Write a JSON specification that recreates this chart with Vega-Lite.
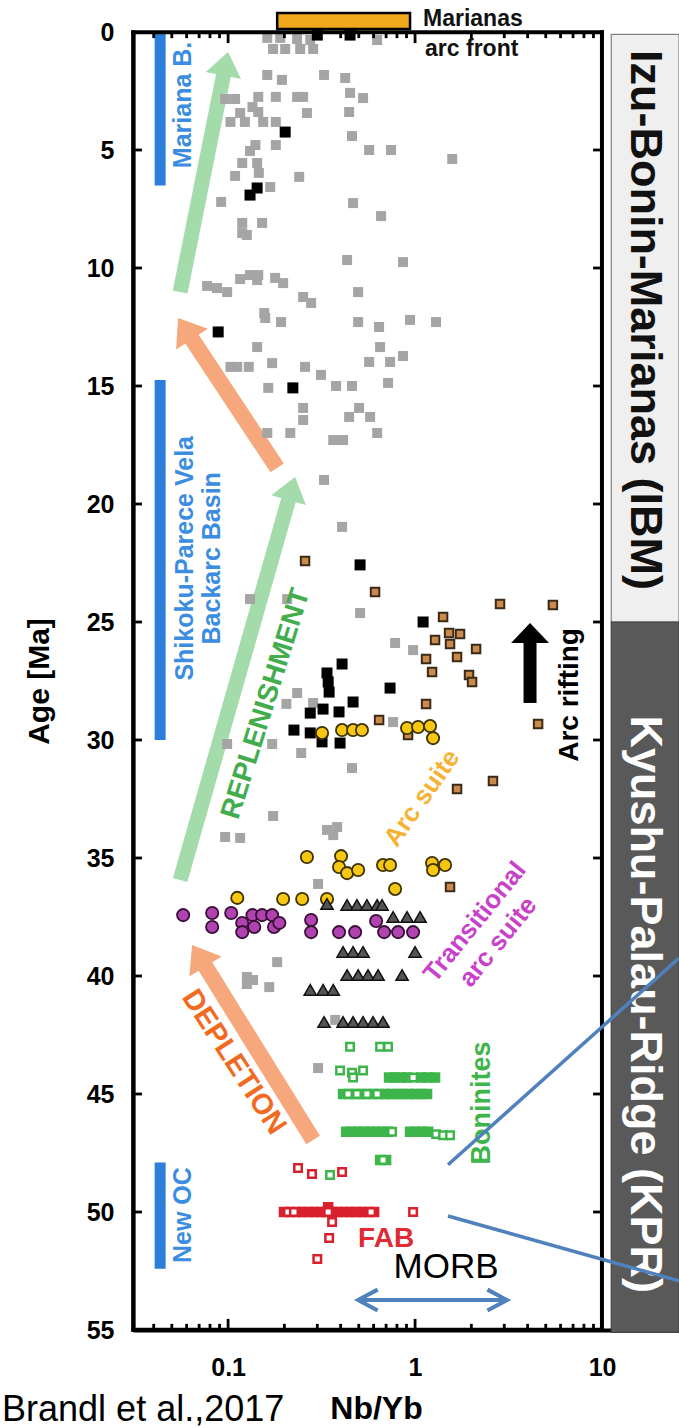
{
  "$schema": "https://vega.github.io/schema/vega-lite/v6.json",
  "width": 546,
  "height": 1298,
  "autosize": {"type": "none"},
  "padding": {"left": 133, "top": 32, "right": 0, "bottom": 98},
  "background": "white",
  "config": {"view": {"stroke": null}},
  "datasets": {
    "pts": [
      {"type": "gray", "nb": 0.162, "age": 0.25}, {"type": "gray", "nb": 0.190, "age": 0.25}, {"type": "gray", "nb": 0.174, "age": 0.72}, {"type": "gray", "nb": 0.202, "age": 0.72},
      {"type": "gray", "nb": 0.234, "age": 0.30}, {"type": "gray", "nb": 0.275, "age": 0.34}, {"type": "gray", "nb": 0.243, "age": 0.72}, {"type": "gray", "nb": 0.285, "age": 0.72},
      {"type": "gray", "nb": 0.627, "age": 0.34}, {"type": "gray", "nb": 0.162, "age": 1.82}, {"type": "gray", "nb": 0.194, "age": 2.03}, {"type": "gray", "nb": 0.326, "age": 1.82},
      {"type": "gray", "nb": 0.423, "age": 1.95}, {"type": "gray", "nb": 0.0964, "age": 2.84}, {"type": "gray", "nb": 0.109, "age": 2.84}, {"type": "gray", "nb": 0.145, "age": 2.75},
      {"type": "gray", "nb": 0.180, "age": 2.75}, {"type": "gray", "nb": 0.234, "age": 2.75}, {"type": "gray", "nb": 0.252, "age": 2.75}, {"type": "gray", "nb": 0.449, "age": 2.58},
      {"type": "gray", "nb": 0.527, "age": 2.80}, {"type": "gray", "nb": 0.135, "age": 3.18}, {"type": "gray", "nb": 0.116, "age": 3.43}, {"type": "gray", "nb": 0.145, "age": 3.39},
      {"type": "gray", "nb": 0.264, "age": 3.43}, {"type": "gray", "nb": 0.444, "age": 3.39}, {"type": "gray", "nb": 0.103, "age": 3.81}, {"type": "gray", "nb": 0.123, "age": 3.81},
      {"type": "gray", "nb": 0.154, "age": 3.81}, {"type": "gray", "nb": 0.180, "age": 3.81}, {"type": "gray", "nb": 0.460, "age": 4.41}, {"type": "gray", "nb": 0.140, "age": 4.79},
      {"type": "gray", "nb": 0.131, "age": 5.04}, {"type": "gray", "nb": 0.180, "age": 4.79}, {"type": "gray", "nb": 0.568, "age": 5.0}, {"type": "gray", "nb": 0.744, "age": 5.0},
      {"type": "gray", "nb": 1.58, "age": 5.38}, {"type": "gray", "nb": 0.119, "age": 5.55}, {"type": "gray", "nb": 0.143, "age": 5.55}, {"type": "gray", "nb": 0.146, "age": 5.97},
      {"type": "gray", "nb": 0.109, "age": 6.10}, {"type": "gray", "nb": 0.240, "age": 6.14}, {"type": "gray", "nb": 0.168, "age": 6.57}, {"type": "gray", "nb": 0.0918, "age": 7.20},
      {"type": "gray", "nb": 0.466, "age": 7.25}, {"type": "gray", "nb": 0.658, "age": 7.80}, {"type": "gray", "nb": 0.119, "age": 8.09}, {"type": "gray", "nb": 0.152, "age": 8.09},
      {"type": "gray", "nb": 0.119, "age": 8.52}, {"type": "gray", "nb": 0.126, "age": 8.60}, {"type": "gray", "nb": 0.433, "age": 9.66}, {"type": "gray", "nb": 0.862, "age": 9.75},
      {"type": "gray", "nb": 0.0772, "age": 10.76}, {"type": "gray", "nb": 0.0872, "age": 10.85}, {"type": "gray", "nb": 0.0988, "age": 11.02}, {"type": "gray", "nb": 0.116, "age": 10.47},
      {"type": "gray", "nb": 0.131, "age": 10.30}, {"type": "gray", "nb": 0.145, "age": 10.30}, {"type": "gray", "nb": 0.143, "age": 10.51}, {"type": "gray", "nb": 0.1785, "age": 10.42},
      {"type": "gray", "nb": 0.197, "age": 10.64}, {"type": "gray", "nb": 0.496, "age": 11.02}, {"type": "gray", "nb": 0.252, "age": 11.23}, {"type": "gray", "nb": 0.278, "age": 11.48},
      {"type": "gray", "nb": 0.156, "age": 11.91}, {"type": "gray", "nb": 0.158, "age": 12.12}, {"type": "gray", "nb": 0.192, "age": 12.29}, {"type": "gray", "nb": 0.496, "age": 12.29},
      {"type": "gray", "nb": 0.642, "age": 12.50}, {"type": "gray", "nb": 0.940, "age": 12.20}, {"type": "gray", "nb": 1.295, "age": 12.29}, {"type": "gray", "nb": 0.143, "age": 13.35},
      {"type": "gray", "nb": 0.650, "age": 13.35}, {"type": "gray", "nb": 0.568, "age": 13.98}, {"type": "gray", "nb": 0.735, "age": 13.98}, {"type": "gray", "nb": 0.862, "age": 13.73},
      {"type": "gray", "nb": 0.103, "age": 14.19}, {"type": "gray", "nb": 0.112, "age": 14.19}, {"type": "gray", "nb": 0.129, "age": 14.19}, {"type": "gray", "nb": 0.172, "age": 14.03},
      {"type": "gray", "nb": 0.258, "age": 14.19}, {"type": "gray", "nb": 0.314, "age": 14.53}, {"type": "gray", "nb": 0.164, "age": 15.08}, {"type": "gray", "nb": 0.378, "age": 15.0},
      {"type": "gray", "nb": 0.460, "age": 15.0}, {"type": "gray", "nb": 0.717, "age": 14.87}, {"type": "gray", "nb": 0.252, "age": 15.93}, {"type": "gray", "nb": 0.252, "age": 16.44},
      {"type": "gray", "nb": 0.502, "age": 15.93}, {"type": "gray", "nb": 0.444, "age": 16.31}, {"type": "gray", "nb": 0.575, "age": 16.31}, {"type": "gray", "nb": 0.162, "age": 16.99},
      {"type": "gray", "nb": 0.215, "age": 16.99}, {"type": "gray", "nb": 0.365, "age": 17.29}, {"type": "gray", "nb": 0.412, "age": 17.29}, {"type": "gray", "nb": 0.627, "age": 16.99},
      {"type": "gray", "nb": 0.326, "age": 18.98}, {"type": "gray", "nb": 0.407, "age": 20.97}, {"type": "gray", "nb": 0.131, "age": 24.03}, {"type": "gray", "nb": 0.207, "age": 24.03},
      {"type": "gray", "nb": 0.508, "age": 24.62}, {"type": "gray", "nb": 0.782, "age": 25.89}, {"type": "gray", "nb": 0.976, "age": 26.19}, {"type": "gray", "nb": 0.234, "age": 28.01},
      {"type": "gray", "nb": 0.205, "age": 28.47}, {"type": "gray", "nb": 0.285, "age": 28.43}, {"type": "gray", "nb": 0.763, "age": 29.24}, {"type": "gray", "nb": 0.0988, "age": 30.17},
      {"type": "gray", "nb": 0.172, "age": 30.17}, {"type": "gray", "nb": 0.246, "age": 30.55}, {"type": "gray", "nb": 0.460, "age": 31.19}, {"type": "gray", "nb": 0.174, "age": 33.22},
      {"type": "gray", "nb": 0.0964, "age": 34.11}, {"type": "gray", "nb": 0.116, "age": 34.15}, {"type": "gray", "nb": 0.338, "age": 33.81}, {"type": "gray", "nb": 0.383, "age": 33.69},
      {"type": "gray", "nb": 0.365, "age": 34.03}, {"type": "gray", "nb": 0.303, "age": 36.10}, {"type": "gray", "nb": 0.183, "age": 39.41}, {"type": "gray", "nb": 0.126, "age": 40.04},
      {"type": "gray", "nb": 0.126, "age": 40.34}, {"type": "gray", "nb": 0.136, "age": 40.17}, {"type": "gray", "nb": 0.166, "age": 40.47}, {"type": "gray", "nb": 0.374, "age": 41.86},
      {"type": "gray", "nb": 0.303, "age": 43.9},

      {"type": "black", "nb": 0.300, "age": 0.13}, {"type": "black", "nb": 0.449, "age": 0.13}, {"type": "black", "nb": 0.202, "age": 4.24}, {"type": "black", "nb": 0.143, "age": 6.61},
      {"type": "black", "nb": 0.131, "age": 6.91}, {"type": "black", "nb": 0.0885, "age": 12.71}, {"type": "black", "nb": 0.222, "age": 15.08}, {"type": "black", "nb": 0.508, "age": 22.58},
      {"type": "black", "nb": 1.104, "age": 25.0}, {"type": "black", "nb": 0.407, "age": 26.78}, {"type": "black", "nb": 0.338, "age": 27.16}, {"type": "black", "nb": 0.343, "age": 27.54},
      {"type": "black", "nb": 0.347, "age": 27.97}, {"type": "black", "nb": 0.735, "age": 27.80}, {"type": "black", "nb": 0.466, "age": 28.39}, {"type": "black", "nb": 0.392, "age": 28.81},
      {"type": "black", "nb": 0.322, "age": 28.69}, {"type": "black", "nb": 0.275, "age": 28.86}, {"type": "black", "nb": 0.225, "age": 29.58}, {"type": "black", "nb": 0.275, "age": 29.70},
      {"type": "black", "nb": 0.318, "age": 30.08}, {"type": "black", "nb": 0.397, "age": 30.13},

      {"type": "brown", "nb": 0.258, "age": 22.42}, {"type": "brown", "nb": 0.611, "age": 23.73}, {"type": "brown", "nb": 2.847, "age": 24.24}, {"type": "brown", "nb": 5.46, "age": 24.28},
      {"type": "brown", "nb": 1.412, "age": 24.79}, {"type": "brown", "nb": 1.279, "age": 25.76}, {"type": "brown", "nb": 1.520, "age": 25.47}, {"type": "brown", "nb": 1.740, "age": 25.51},
      {"type": "brown", "nb": 1.538, "age": 25.93}, {"type": "brown", "nb": 2.12, "age": 26.14}, {"type": "brown", "nb": 1.677, "age": 26.48}, {"type": "brown", "nb": 1.145, "age": 26.57},
      {"type": "brown", "nb": 1.233, "age": 27.12}, {"type": "brown", "nb": 1.944, "age": 27.25}, {"type": "brown", "nb": 2.018, "age": 27.54}, {"type": "brown", "nb": 1.145, "age": 28.47},
      {"type": "brown", "nb": 0.642, "age": 29.15}, {"type": "brown", "nb": 0.917, "age": 29.79}, {"type": "brown", "nb": 4.55, "age": 29.32}, {"type": "brown", "nb": 1.677, "age": 32.08},
      {"type": "brown", "nb": 2.61, "age": 31.74}, {"type": "brown", "nb": 1.538, "age": 36.23},

      {"type": "yellow", "nb": 0.318, "age": 29.70}, {"type": "yellow", "nb": 0.407, "age": 29.58}, {"type": "yellow", "nb": 0.466, "age": 29.58}, {"type": "yellow", "nb": 0.520, "age": 29.58},
      {"type": "yellow", "nb": 0.906, "age": 29.49}, {"type": "yellow", "nb": 1.038, "age": 29.45}, {"type": "yellow", "nb": 1.203, "age": 29.41}, {"type": "yellow", "nb": 1.248, "age": 29.92},
      {"type": "yellow", "nb": 0.264, "age": 34.96}, {"type": "yellow", "nb": 0.402, "age": 34.92}, {"type": "yellow", "nb": 0.392, "age": 35.38}, {"type": "yellow", "nb": 0.433, "age": 35.64},
      {"type": "yellow", "nb": 0.496, "age": 35.51}, {"type": "yellow", "nb": 0.674, "age": 35.30}, {"type": "yellow", "nb": 0.735, "age": 35.30}, {"type": "yellow", "nb": 0.782, "age": 36.31},
      {"type": "yellow", "nb": 1.233, "age": 35.21}, {"type": "yellow", "nb": 1.447, "age": 35.30}, {"type": "yellow", "nb": 1.248, "age": 35.51}, {"type": "yellow", "nb": 0.112, "age": 36.69},
      {"type": "yellow", "nb": 0.197, "age": 36.74}, {"type": "yellow", "nb": 0.249, "age": 36.74}, {"type": "yellow", "nb": 0.338, "age": 36.74},

      {"type": "purple", "nb": 0.0575, "age": 37.42}, {"type": "purple", "nb": 0.0822, "age": 37.33}, {"type": "purple", "nb": 0.0822, "age": 37.92}, {"type": "purple", "nb": 0.1039, "age": 37.33},
      {"type": "purple", "nb": 0.119, "age": 37.75}, {"type": "purple", "nb": 0.119, "age": 38.14}, {"type": "purple", "nb": 0.135, "age": 37.42}, {"type": "purple", "nb": 0.138, "age": 37.92},
      {"type": "purple", "nb": 0.152, "age": 37.42}, {"type": "purple", "nb": 0.172, "age": 37.42}, {"type": "purple", "nb": 0.176, "age": 37.92}, {"type": "purple", "nb": 0.188, "age": 37.75},
      {"type": "purple", "nb": 0.278, "age": 37.63}, {"type": "purple", "nb": 0.278, "age": 38.14}, {"type": "purple", "nb": 0.392, "age": 38.14}, {"type": "purple", "nb": 0.478, "age": 38.14},
      {"type": "purple", "nb": 0.619, "age": 37.67}, {"type": "purple", "nb": 0.683, "age": 38.14}, {"type": "purple", "nb": 0.811, "age": 38.14}, {"type": "purple", "nb": 0.976, "age": 38.14},

      {"type": "tri", "nb": 0.338, "age": 36.95}, {"type": "tri", "nb": 0.433, "age": 36.99}, {"type": "tri", "nb": 0.489, "age": 36.99}, {"type": "tri", "nb": 0.553, "age": 36.99},
      {"type": "tri", "nb": 0.627, "age": 36.99}, {"type": "tri", "nb": 0.666, "age": 36.99}, {"type": "tri", "nb": 0.763, "age": 37.50}, {"type": "tri", "nb": 0.906, "age": 37.50},
      {"type": "tri", "nb": 1.064, "age": 37.50}, {"type": "tri", "nb": 0.412, "age": 38.98}, {"type": "tri", "nb": 0.466, "age": 38.98}, {"type": "tri", "nb": 0.527, "age": 38.98},
      {"type": "tri", "nb": 1.0, "age": 38.98}, {"type": "tri", "nb": 0.433, "age": 39.96}, {"type": "tri", "nb": 0.496, "age": 39.96}, {"type": "tri", "nb": 0.560, "age": 39.96},
      {"type": "tri", "nb": 0.634, "age": 39.96}, {"type": "tri", "nb": 0.852, "age": 39.96}, {"type": "tri", "nb": 0.275, "age": 40.59}, {"type": "tri", "nb": 0.322, "age": 40.59},
      {"type": "tri", "nb": 0.365, "age": 40.59}, {"type": "tri", "nb": 0.326, "age": 41.95}, {"type": "tri", "nb": 0.412, "age": 41.95}, {"type": "tri", "nb": 0.466, "age": 41.95},
      {"type": "tri", "nb": 0.527, "age": 41.95}, {"type": "tri", "nb": 0.596, "age": 41.95}, {"type": "tri", "nb": 0.674, "age": 41.95},

      {"type": "bonf", "nb": 0.726, "age": 44.3}, {"type": "bonf", "nb": 0.782, "age": 44.3}, {"type": "bonf", "nb": 0.841, "age": 44.3}, {"type": "bonf", "nb": 0.906, "age": 44.3},
      {"type": "bonf", "nb": 1.077, "age": 44.3}, {"type": "bonf", "nb": 1.174, "age": 44.3}, {"type": "bonf", "nb": 1.279, "age": 44.3},
      {"type": "bonf", "nb": 0.412, "age": 45.0}, {"type": "bonf", "nb": 0.444, "age": 45.0}, {"type": "bonf", "nb": 0.478, "age": 45.0}, {"type": "bonf", "nb": 0.515, "age": 45.0},
      {"type": "bonf", "nb": 0.553, "age": 45.0}, {"type": "bonf", "nb": 0.596, "age": 45.0}, {"type": "bonf", "nb": 0.642, "age": 45.0}, {"type": "bonf", "nb": 0.691, "age": 45.0},
      {"type": "bonf", "nb": 0.744, "age": 45.0}, {"type": "bonf", "nb": 0.801, "age": 45.0}, {"type": "bonf", "nb": 0.862, "age": 45.0}, {"type": "bonf", "nb": 0.929, "age": 45.0},
      {"type": "bonf", "nb": 1.0, "age": 45.0}, {"type": "bonf", "nb": 1.077, "age": 45.0}, {"type": "bonf", "nb": 1.159, "age": 45.0},
      {"type": "bonf", "nb": 0.428, "age": 46.6}, {"type": "bonf", "nb": 0.460, "age": 46.6}, {"type": "bonf", "nb": 0.496, "age": 46.6}, {"type": "bonf", "nb": 0.533, "age": 46.6},
      {"type": "bonf", "nb": 0.575, "age": 46.6}, {"type": "bonf", "nb": 0.619, "age": 46.6}, {"type": "bonf", "nb": 0.666, "age": 46.6}, {"type": "bonf", "nb": 0.717, "age": 46.6},
      {"type": "bonf", "nb": 0.940, "age": 46.6}, {"type": "bonf", "nb": 1.012, "age": 46.6}, {"type": "bonf", "nb": 1.090, "age": 46.6}, {"type": "bonf", "nb": 1.174, "age": 46.6},
      {"type": "bonf", "nb": 0.650, "age": 47.8}, {"type": "bonf", "nb": 0.700, "age": 47.8},

      {"type": "bono", "nb": 0.449, "age": 43.0}, {"type": "bono", "nb": 0.650, "age": 43.0}, {"type": "bono", "nb": 0.717, "age": 43.0}, {"type": "bono", "nb": 0.397, "age": 44.0},
      {"type": "bono", "nb": 0.460, "age": 44.1}, {"type": "bono", "nb": 0.466, "age": 44.3}, {"type": "bono", "nb": 0.527, "age": 44.0}, {"type": "bono", "nb": 0.976, "age": 44.3},
      {"type": "bono", "nb": 0.438, "age": 45.0}, {"type": "bono", "nb": 0.489, "age": 45.0}, {"type": "bono", "nb": 0.553, "age": 45.0}, {"type": "bono", "nb": 0.627, "age": 45.0},
      {"type": "bono", "nb": 0.753, "age": 46.6}, {"type": "bono", "nb": 1.295, "age": 46.7}, {"type": "bono", "nb": 1.412, "age": 46.75}, {"type": "bono", "nb": 1.538, "age": 46.75},
      {"type": "bono", "nb": 0.674, "age": 47.8}, {"type": "bono", "nb": 0.351, "age": 48.43},

      {"type": "fabf", "nb": 0.199, "age": 50.0}, {"type": "fabf", "nb": 0.215, "age": 50.0}, {"type": "fabf", "nb": 0.231, "age": 50.0}, {"type": "fabf", "nb": 0.249, "age": 50.0},
      {"type": "fabf", "nb": 0.268, "age": 50.0}, {"type": "fabf", "nb": 0.288, "age": 50.0}, {"type": "fabf", "nb": 0.311, "age": 50.0}, {"type": "fabf", "nb": 0.334, "age": 50.0},
      {"type": "fabf", "nb": 0.360, "age": 50.0}, {"type": "fabf", "nb": 0.387, "age": 50.0}, {"type": "fabf", "nb": 0.417, "age": 50.0}, {"type": "fabf", "nb": 0.449, "age": 50.0},
      {"type": "fabf", "nb": 0.483, "age": 50.0}, {"type": "fabf", "nb": 0.520, "age": 50.0}, {"type": "fabf", "nb": 0.560, "age": 50.0}, {"type": "fabf", "nb": 0.604, "age": 50.0},
      {"type": "fabf", "nb": 0.343, "age": 49.8},

      {"type": "fabo", "nb": 0.209, "age": 50.0}, {"type": "fabo", "nb": 0.225, "age": 50.0}, {"type": "fabo", "nb": 0.343, "age": 50.0}, {"type": "fabo", "nb": 0.582, "age": 50.0},
      {"type": "fabo", "nb": 0.976, "age": 50.0}, {"type": "fabo", "nb": 0.2366, "age": 48.14}, {"type": "fabo", "nb": 0.281, "age": 48.39}, {"type": "fabo", "nb": 0.407, "age": 48.31},
      {"type": "fabo", "nb": 0.360, "age": 50.42}, {"type": "fabo", "nb": 0.347, "age": 51.1}, {"type": "fabo", "nb": 0.300, "age": 51.99}
    ],
    "ticks": [
      {"nb": 0.1, "age": 54.99, "nb2": 0.1, "age2": 54.53}, {"nb": 1, "age": 54.99, "nb2": 1, "age2": 54.53},
      {"nb": 0.1, "age": 0.01, "nb2": 0.1, "age2": 0.47}, {"nb": 1, "age": 0.01, "nb2": 1, "age2": 0.47},
      {"nb": 0.04, "age": 54.99, "nb2": 0.04, "age2": 54.74}, {"nb": 0.05, "age": 54.99, "nb2": 0.05, "age2": 54.74}, {"nb": 0.06, "age": 54.99, "nb2": 0.06, "age2": 54.74},
      {"nb": 0.07, "age": 54.99, "nb2": 0.07, "age2": 54.74}, {"nb": 0.08, "age": 54.99, "nb2": 0.08, "age2": 54.74}, {"nb": 0.09, "age": 54.99, "nb2": 0.09, "age2": 54.74},
      {"nb": 0.2, "age": 54.99, "nb2": 0.2, "age2": 54.74}, {"nb": 0.3, "age": 54.99, "nb2": 0.3, "age2": 54.74}, {"nb": 0.4, "age": 54.99, "nb2": 0.4, "age2": 54.74},
      {"nb": 0.5, "age": 54.99, "nb2": 0.5, "age2": 54.74}, {"nb": 0.6, "age": 54.99, "nb2": 0.6, "age2": 54.74}, {"nb": 0.7, "age": 54.99, "nb2": 0.7, "age2": 54.74},
      {"nb": 0.8, "age": 54.99, "nb2": 0.8, "age2": 54.74}, {"nb": 0.9, "age": 54.99, "nb2": 0.9, "age2": 54.74}, {"nb": 2, "age": 54.99, "nb2": 2, "age2": 54.74},
      {"nb": 3, "age": 54.99, "nb2": 3, "age2": 54.74}, {"nb": 4, "age": 54.99, "nb2": 4, "age2": 54.74}, {"nb": 5, "age": 54.99, "nb2": 5, "age2": 54.74},
      {"nb": 6, "age": 54.99, "nb2": 6, "age2": 54.74}, {"nb": 7, "age": 54.99, "nb2": 7, "age2": 54.74}, {"nb": 8, "age": 54.99, "nb2": 8, "age2": 54.74},
      {"nb": 9, "age": 54.99, "nb2": 9, "age2": 54.74},
      {"nb": 0.04, "age": 0.01, "nb2": 0.04, "age2": 0.26}, {"nb": 0.05, "age": 0.01, "nb2": 0.05, "age2": 0.26}, {"nb": 0.06, "age": 0.01, "nb2": 0.06, "age2": 0.26},
      {"nb": 0.07, "age": 0.01, "nb2": 0.07, "age2": 0.26}, {"nb": 0.08, "age": 0.01, "nb2": 0.08, "age2": 0.26}, {"nb": 0.09, "age": 0.01, "nb2": 0.09, "age2": 0.26},
      {"nb": 0.2, "age": 0.01, "nb2": 0.2, "age2": 0.26}, {"nb": 0.3, "age": 0.01, "nb2": 0.3, "age2": 0.26}, {"nb": 0.4, "age": 0.01, "nb2": 0.4, "age2": 0.26},
      {"nb": 0.5, "age": 0.01, "nb2": 0.5, "age2": 0.26}, {"nb": 0.6, "age": 0.01, "nb2": 0.6, "age2": 0.26}, {"nb": 0.7, "age": 0.01, "nb2": 0.7, "age2": 0.26},
      {"nb": 0.8, "age": 0.01, "nb2": 0.8, "age2": 0.26}, {"nb": 0.9, "age": 0.01, "nb2": 0.9, "age2": 0.26}, {"nb": 2, "age": 0.01, "nb2": 2, "age2": 0.26},
      {"nb": 3, "age": 0.01, "nb2": 3, "age2": 0.26}, {"nb": 4, "age": 0.01, "nb2": 4, "age2": 0.26}, {"nb": 5, "age": 0.01, "nb2": 5, "age2": 0.26},
      {"nb": 6, "age": 0.01, "nb2": 6, "age2": 0.26}, {"nb": 7, "age": 0.01, "nb2": 7, "age2": 0.26}, {"nb": 8, "age": 0.01, "nb2": 8, "age2": 0.26},
      {"nb": 9, "age": 0.01, "nb2": 9, "age2": 0.26},
      {"nb": 0.0311, "age": 5, "nb2": 0.0346, "age2": 5}, {"nb": 0.0311, "age": 10, "nb2": 0.0346, "age2": 10}, {"nb": 0.0311, "age": 15, "nb2": 0.0346, "age2": 15},
      {"nb": 0.0311, "age": 20, "nb2": 0.0346, "age2": 20}, {"nb": 0.0311, "age": 25, "nb2": 0.0346, "age2": 25}, {"nb": 0.0311, "age": 30, "nb2": 0.0346, "age2": 30},
      {"nb": 0.0311, "age": 35, "nb2": 0.0346, "age2": 35}, {"nb": 0.0311, "age": 40, "nb2": 0.0346, "age2": 40}, {"nb": 0.0311, "age": 45, "nb2": 0.0346, "age2": 45},
      {"nb": 0.0311, "age": 50, "nb2": 0.0346, "age2": 50},
      {"nb": 8.95, "age": 5, "nb2": 9.99, "age2": 5}, {"nb": 8.95, "age": 10, "nb2": 9.99, "age2": 10}, {"nb": 8.95, "age": 15, "nb2": 9.99, "age2": 15},
      {"nb": 8.95, "age": 20, "nb2": 9.99, "age2": 20}, {"nb": 8.95, "age": 25, "nb2": 9.99, "age2": 25}, {"nb": 8.95, "age": 30, "nb2": 9.99, "age2": 30},
      {"nb": 8.95, "age": 35, "nb2": 9.99, "age2": 35}, {"nb": 8.95, "age": 40, "nb2": 9.99, "age2": 40}, {"nb": 8.95, "age": 45, "nb2": 9.99, "age2": 45},
      {"nb": 8.95, "age": 50, "nb2": 9.99, "age2": 50}
    ]
  },
  "encoding": {
    "x": {
      "field": "nb", "type": "quantitative",
      "scale": {"type": "log", "domain": [0.031, 25.8], "nice": false},
      "axis": {"orient": "bottom", "values": [0.1, 1, 10], "labelExpr": "datum.value < 0.5 ? '0.1' : datum.value < 5 ? '1' : '10'", "domain": true, "domainColor": "#000000", "domainWidth": 4, "grid": false, "ticks": false, "labelFont": "Liberation Sans", "labelFontWeight": "bold", "labelFontSize": 25, "labelColor": "#000000", "labelPadding": 25, "labelFlush": false, "labelOverlap": false, "title": "Nb/Yb", "titleFont": "Liberation Sans", "titleFontWeight": "bold", "titleFontSize": 32, "titleColor": "#000000", "titleX": 243, "titleY": 78, "titleAlign": "center", "titleBaseline": "middle"}
    },
    "y": {
      "field": "age", "type": "quantitative",
      "scale": {"domain": [0, 55], "reverse": true, "nice": false, "zero": false},
      "axis": {"orient": "left", "values": [0, 5, 10, 15, 20, 25, 30, 35, 40, 45, 50, 55], "format": "d", "domain": true, "domainColor": "#000000", "domainWidth": 4, "grid": false, "ticks": false, "labelFont": "Liberation Sans", "labelFontWeight": "bold", "labelFontSize": 25, "labelColor": "#000000", "labelPadding": 19, "labelOverlap": false, "labelFlush": false, "title": "Age [Ma]", "titleFont": "Liberation Sans", "titleFontWeight": "bold", "titleFontSize": 30, "titleColor": "#000000", "titleX": -94, "titleY": 649, "titleAngle": -90, "titleAlign": "center", "titleBaseline": "middle"}
    }
  },
  "layer": [
    {
      "data": {"values": [{"nb": 11.2, "nb2": 25.8, "age": 0.1, "age2": 25.0}]},
      "mark": {"type": "rect", "fill": "#efefef", "stroke": "#808080", "strokeWidth": 1.2},
      "encoding": {"x2": {"field": "nb2"}, "y2": {"field": "age2"}}
    },
    {
      "data": {"values": [{"nb": 11.2, "nb2": 25.8, "age": 25.0, "age2": 55.1}]},
      "mark": {"type": "rect", "fill": "#595959", "stroke": "#444444", "strokeWidth": 1.2},
      "encoding": {"x2": {"field": "nb2"}, "y2": {"field": "age2"}}
    },
    {
      "data": {"values": [{"nb": 16.98, "age": 12.2, "label": "Izu-Bonin-Marianas (IBM)"}]},
      "mark": {"type": "text", "angle": 90, "align": "center", "baseline": "middle", "font": "Liberation Sans", "fontWeight": "bold", "fontSize": 45, "color": "#111111"},
      "encoding": {"text": {"field": "label"}}
    },
    {
      "data": {"values": [{"nb": 16.98, "age": 41.2, "label": "Kyushu-Palau-Ridge (KPR)"}]},
      "mark": {"type": "text", "angle": 90, "align": "center", "baseline": "middle", "font": "Liberation Sans", "fontWeight": "bold", "fontSize": 45, "color": "#ffffff"},
      "encoding": {"text": {"field": "label"}}
    },
    {
      "data": {"values": [
        {"nb": 0.0433, "age": 0.0, "age2": 6.5},
        {"nb": 0.0433, "age": 14.75, "age2": 30.0},
        {"nb": 0.0433, "age": 47.9, "age2": 52.4}
      ]},
      "mark": {"type": "rule", "color": "#2b7fd8", "strokeWidth": 11, "strokeCap": "butt"},
      "encoding": {"y2": {"field": "age2"}}
    },
    {
      "data": {"values": [
        {"nb": 0.0575, "age": 3.09, "label": "Mariana B."},
        {"nb": 0.0589, "age": 22.3, "label": "Shikoku-Parece Vela"},
        {"nb": 0.0822, "age": 22.3, "label": "Backarc Basin"},
        {"nb": 0.0575, "age": 50.13, "label": "New OC"}
      ]},
      "mark": {"type": "text", "angle": -90, "align": "center", "baseline": "middle", "font": "Liberation Sans", "fontWeight": "bold", "fontSize": 25, "color": "#3a8de0"},
      "encoding": {"text": {"field": "label"}}
    },
    {
      "data": {"values": [{"nb": 0.0554, "age": 11.02, "nb2": 0.0953, "age2": 1.68}, {"nb": 0.0554, "age": 35.93, "nb2": 0.2133, "age2": 19.67}]},
      "mark": {"type": "rule", "color": "#a3dbab", "strokeWidth": 15, "strokeCap": "butt"},
      "encoding": {"x2": {"field": "nb2"}, "y2": {"field": "age2"}}
    },
    {
      "data": {"values": [{"nb": 0.1, "age": 0.85}]},
      "mark": {"type": "point", "shape": "M0,0L1,1.33L-1,1.33Z", "filled": true, "size": 1296, "angle": 11.3, "color": "#a3dbab", "opacity": 1, "strokeWidth": 0}
    },
    {
      "data": {"values": [{"nb": 0.2283, "age": 18.86}]},
      "mark": {"type": "point", "shape": "M0,0L1,1.33L-1,1.33Z", "filled": true, "size": 1296, "angle": 15.9, "color": "#a3dbab", "opacity": 1, "strokeWidth": 0}
    },
    {
      "data": {"values": [{"nb": 0.183, "age": 18.47, "nb2": 0.0619, "age2": 12.83}, {"nb": 0.285, "age": 46.95, "nb2": 0.0731, "age2": 39.41}]},
      "mark": {"type": "rule", "color": "#f6a77c", "strokeWidth": 16, "strokeCap": "butt"},
      "encoding": {"x2": {"field": "nb2"}, "y2": {"field": "age2"}}
    },
    {
      "data": {"values": [{"nb": 0.054, "age": 12.12}]},
      "mark": {"type": "point", "shape": "M0,0L1,1.33L-1,1.33Z", "filled": true, "size": 1444, "angle": -33.4, "color": "#f6a77c", "opacity": 1, "strokeWidth": 0}
    },
    {
      "data": {"values": [{"nb": 0.0642, "age": 38.69}]},
      "mark": {"type": "point", "shape": "M0,0L1,1.33L-1,1.33Z", "filled": true, "size": 1444, "angle": -31.8, "color": "#f6a77c", "opacity": 1, "strokeWidth": 0}
    },
    {
      "data": {"name": "pts"},
      "transform": [{"filter": "datum.type === 'gray'"}],
      "mark": {"type": "square", "size": 100, "color": "#a5a5a5", "opacity": 1}
    },
    {
      "data": {"name": "pts"},
      "transform": [{"filter": "datum.type === 'black'"}],
      "mark": {"type": "square", "size": 121, "color": "#000000", "opacity": 1}
    },
    {
      "data": {"name": "pts"},
      "transform": [{"filter": "datum.type === 'brown'"}],
      "mark": {"type": "square", "size": 72, "fill": "#c98a4b", "stroke": "#3b2a17", "strokeWidth": 2, "opacity": 1}
    },
    {
      "data": {"name": "pts"},
      "transform": [{"filter": "datum.type === 'yellow'"}],
      "mark": {"type": "circle", "size": 150, "fill": "#f8c712", "stroke": "#3d3300", "strokeWidth": 1.8, "opacity": 1}
    },
    {
      "data": {"name": "pts"},
      "transform": [{"filter": "datum.type === 'purple'"}],
      "mark": {"type": "circle", "size": 150, "fill": "#b043b0", "stroke": "#3a103a", "strokeWidth": 1.8, "opacity": 1}
    },
    {
      "data": {"name": "pts"},
      "transform": [{"filter": "datum.type === 'tri'"}],
      "mark": {"type": "point", "shape": "triangle-up", "filled": true, "size": 150, "fill": "#555555", "stroke": "#111111", "strokeWidth": 1.5, "opacity": 1}
    },
    {
      "data": {"name": "pts"},
      "transform": [{"filter": "datum.type === 'bonf'"}],
      "mark": {"type": "square", "size": 64, "fill": "#3db54a", "stroke": "#3db54a", "strokeWidth": 2.5, "opacity": 1}
    },
    {
      "data": {"name": "pts"},
      "transform": [{"filter": "datum.type === 'bono'"}],
      "mark": {"type": "square", "size": 56, "fill": "#ffffff", "stroke": "#3db54a", "strokeWidth": 2.5, "opacity": 1}
    },
    {
      "data": {"name": "pts"},
      "transform": [{"filter": "datum.type === 'fabf'"}],
      "mark": {"type": "square", "size": 64, "fill": "#d8202e", "stroke": "#d8202e", "strokeWidth": 2.5, "opacity": 1}
    },
    {
      "data": {"name": "pts"},
      "transform": [{"filter": "datum.type === 'fabo'"}],
      "mark": {"type": "square", "size": 56, "fill": "#ffffff", "stroke": "#d8202e", "strokeWidth": 2.5, "opacity": 1}
    },
    {
      "data": {"values": [
        {"nb": 0.0311, "age": 0.01, "nb2": 0.0311, "age2": 54.99},
        {"nb": 9.99, "age": 0.01, "nb2": 9.99, "age2": 54.99},
        {"nb": 0.0311, "age": 0.01, "nb2": 9.99, "age2": 0.01},
        {"nb": 0.0311, "age": 54.99, "nb2": 9.99, "age2": 54.99}
      ]},
      "mark": {"type": "rule", "color": "#000000", "strokeWidth": 4, "strokeCap": "square"},
      "encoding": {"x2": {"field": "nb2"}, "y2": {"field": "age2"}}
    },
    {
      "data": {"name": "ticks"},
      "mark": {"type": "rule", "color": "#000000", "strokeWidth": 2.8},
      "encoding": {"x2": {"field": "nb2"}, "y2": {"field": "age2"}}
    },
    {
      "data": {"values": [{"nb": 0.16, "age": 28.47, "label": "REPLENISHMENT"}]},
      "mark": {"type": "text", "angle": -72.6, "align": "center", "baseline": "middle", "font": "Liberation Sans", "fontWeight": "bold", "fontSize": 28, "color": "#43ad4e"},
      "encoding": {"text": {"field": "label"}}
    },
    {
      "data": {"values": [{"nb": 0.1076, "age": 43.64, "label": "DEPLETION"}]},
      "mark": {"type": "text", "angle": 57, "align": "center", "baseline": "middle", "font": "Liberation Sans", "fontWeight": "bold", "fontSize": 29, "color": "#f26a1f"},
      "encoding": {"text": {"field": "label"}}
    },
    {
      "data": {"values": [{"nb": 1.09, "age": 32.46, "label": "Arc suite"}]},
      "mark": {"type": "text", "angle": -55, "align": "center", "baseline": "middle", "font": "Liberation Sans", "fontWeight": "bold", "fontSize": 26, "color": "#f7b233"},
      "encoding": {"text": {"field": "label"}}
    },
    {
      "data": {"values": [{"nb": 2.09, "age": 37.71, "label": "Transitional"}, {"nb": 2.78, "age": 38.56, "label": "arc suite"}]},
      "mark": {"type": "text", "angle": -51, "align": "center", "baseline": "middle", "font": "Liberation Sans", "fontWeight": "bold", "fontSize": 26, "color": "#c841c8"},
      "encoding": {"text": {"field": "label"}}
    },
    {
      "data": {"values": [{"nb": 2.28, "age": 45.38, "label": "Boninites"}]},
      "mark": {"type": "text", "angle": -90, "align": "center", "baseline": "middle", "font": "Liberation Sans", "fontWeight": "bold", "fontSize": 27, "color": "#3db54a"},
      "encoding": {"text": {"field": "label"}}
    },
    {
      "data": {"values": [{"nb": 0.70, "age": 51.14, "label": "FAB"}]},
      "mark": {"type": "text", "align": "center", "baseline": "middle", "font": "Liberation Sans", "fontWeight": "bold", "fontSize": 28, "color": "#e02b35"},
      "encoding": {"text": {"field": "label"}}
    },
    {
      "data": {"values": [{"nb": 6.74, "age": 28.09, "label": "Arc rifting"}]},
      "mark": {"type": "text", "angle": -90, "align": "center", "baseline": "middle", "font": "Liberation Sans", "fontWeight": "bold", "fontSize": 28, "color": "#000000"},
      "encoding": {"text": {"field": "label"}}
    },
    {
      "data": {"values": [{"nb": 4.12, "age": 28.43, "nb2": 4.12, "age2": 25.8}]},
      "mark": {"type": "rule", "color": "#000000", "strokeWidth": 13, "strokeCap": "butt"},
      "encoding": {"x2": {"field": "nb2"}, "y2": {"field": "age2"}}
    },
    {
      "data": {"values": [{"nb": 4.12, "age": 25.04}]},
      "mark": {"type": "point", "shape": "M0,0L1,1.05L-1,1.05Z", "filled": true, "size": 1444, "color": "#000000", "opacity": 1, "strokeWidth": 0}
    },
    {
      "data": {"values": [{"nb": 0.183, "nb2": 0.94, "age": -0.8, "age2": -0.13}]},
      "mark": {"type": "rect", "fill": "#f0a81c", "stroke": "#000000", "strokeWidth": 2.5},
      "encoding": {"x2": {"field": "nb2"}, "y2": {"field": "age2"}}
    },
    {
      "data": {"values": [{"nb": 1.103, "age": -0.55, "label": "Marianas"}, {"nb": 1.131, "age": 0.72, "label": "arc front"}]},
      "mark": {"type": "text", "align": "left", "baseline": "middle", "font": "Liberation Sans", "fontWeight": "bold", "fontSize": 23, "color": "#111111"},
      "encoding": {"text": {"field": "label"}}
    },
    {
      "data": {"values": [{"nb": 1.50, "age": 48.0, "nb2": 25.8, "age2": 39.24}, {"nb": 1.50, "age": 50.17, "nb2": 25.8, "age2": 52.92}]},
      "mark": {"type": "rule", "color": "#4f81bd", "strokeWidth": 3.5},
      "encoding": {"x2": {"field": "nb2"}, "y2": {"field": "age2"}}
    },
    {
      "data": {"values": [{"nb": 0.51, "age": 53.73, "nb2": 3.05, "age2": 53.73}]},
      "mark": {"type": "rule", "color": "#4f81bd", "strokeWidth": 4},
      "encoding": {"x2": {"field": "nb2"}, "y2": {"field": "age2"}}
    },
    {
      "data": {"values": [{"nb": 0.496, "age": 53.73}]},
      "mark": {"type": "point", "shape": "M1.5,-0.8L0,0L1.5,0.8", "filled": false, "size": 676, "color": "#4f81bd", "strokeWidth": 4, "opacity": 1}
    },
    {
      "data": {"values": [{"nb": 3.10, "age": 53.73}]},
      "mark": {"type": "point", "shape": "M-1.5,-0.8L0,0L-1.5,0.8", "filled": false, "size": 676, "color": "#4f81bd", "strokeWidth": 4, "opacity": 1}
    },
    {
      "data": {"values": [{"nb": 1.465, "age": 52.33, "label": "MORB"}]},
      "mark": {"type": "text", "align": "center", "baseline": "middle", "font": "Liberation Sans", "fontSize": 35, "color": "#000000"},
      "encoding": {"text": {"field": "label"}}
    },
    {
      "data": {"values": [{"nb": 0.00618, "age": 58.39, "label": "Brandl et al.,2017"}]},
      "mark": {"type": "text", "align": "left", "baseline": "middle", "font": "Liberation Sans", "fontSize": 36, "color": "#000000"},
      "encoding": {"text": {"field": "label"}}
    }
  ]
}
